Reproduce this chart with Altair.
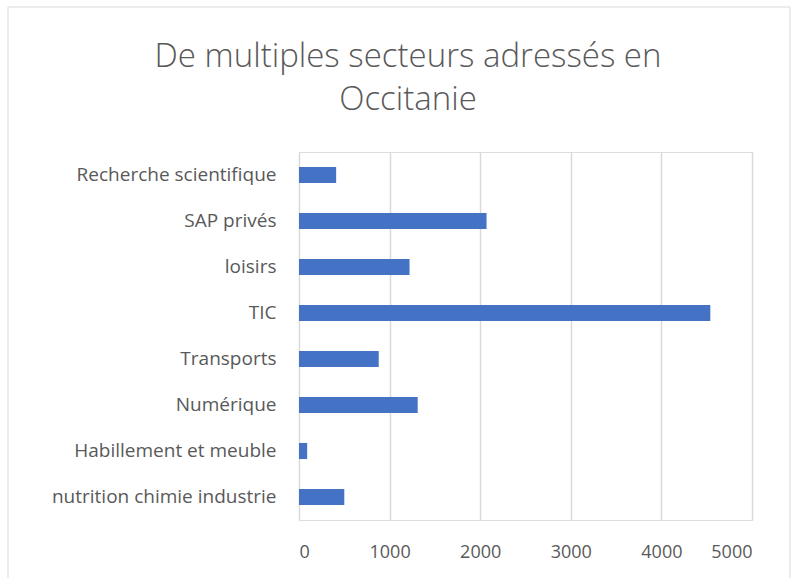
import altair as alt
import pandas as pd

categories = ["Recherche scientifique", "SAP privés", "loisirs", "TIC",
              "Transports", "Numérique", "Habillement et meuble",
              "nutrition chimie industrie"]
values = [410, 2070, 1220, 4540, 880, 1310, 90, 500]
x_ticks = [0, 1000, 2000, 3000, 4000, 5000]
title_lines = ["De multiples secteurs adressés en", "Occitanie"]

df = pd.DataFrame({"secteur": categories, "valeur": values})

FONT = "Open Sans"
GREY = "#595959"

border = alt.Chart(pd.DataFrame({"a": [0]})).mark_rect(
    fill=None, stroke="#d9d9d9", strokeWidth=1
).encode(
    x=alt.value(-291), x2=alt.value(491),
    y=alt.value(-145), y2=alt.value(440)
)

title1 = alt.Chart(pd.DataFrame({"t": [title_lines[0]]})).mark_text(
    font=FONT, fontSize=33, fontWeight=300, color=GREY, align="center",
    baseline="middle"
).encode(text="t:N", x=alt.value(109), y=alt.value(-95))

title2 = alt.Chart(pd.DataFrame({"t": [title_lines[1]]})).mark_text(
    font=FONT, fontSize=33, fontWeight=300, color=GREY, align="center",
    baseline="middle"
).encode(text="t:N", x=alt.value(109), y=alt.value(-52))

bars = alt.Chart(df).mark_bar(color="#4472C4").encode(
    x=alt.X("valeur:Q", scale=alt.Scale(domain=[0, 5000], nice=False),
            axis=alt.Axis(values=x_ticks, format="d", title=None, grid=True,
                          ticks=False, domain=False, labelPadding=23,
                          labelFontSize=18, labelColor=GREY, labelFont=FONT,
                          gridColor="#d9d9d9", gridWidth=1.5)),
    y=alt.Y("secteur:N", sort=categories,
            scale=alt.Scale(paddingInner=0.65, paddingOuter=0.325),
            axis=alt.Axis(title=None, ticks=False, domain=False,
                          labelPadding=23, labelFontSize=19,
                          labelColor=GREY, labelFont=FONT, labelLimit=400))
)

chart = alt.layer(border, title1, title2, bars).properties(
    width=453, height=368,
    autosize=alt.AutoSizeParams(type="none"),
    padding={"left": 299, "top": 152, "right": 40, "bottom": 58},
).configure_view(stroke=None).configure(background="white")

chart.save("out.html", embed_options={"renderer": "svg", "actions": False})
